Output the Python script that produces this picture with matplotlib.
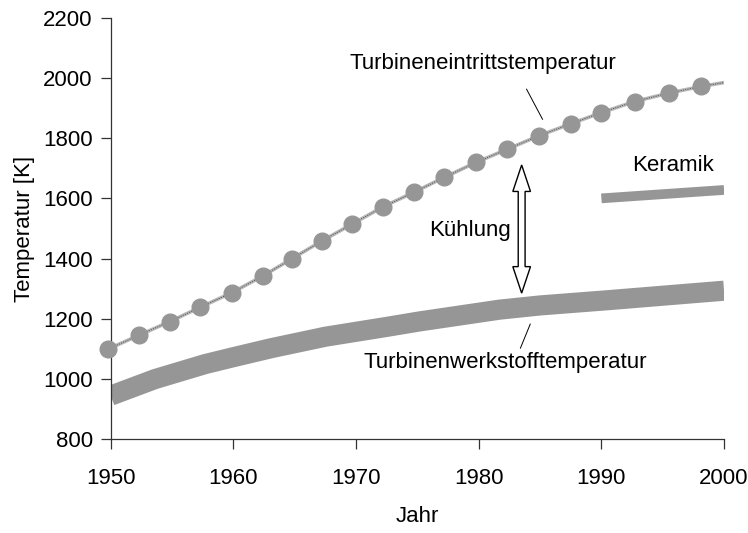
import matplotlib
matplotlib.use("Agg")
import matplotlib.pyplot as plt
from matplotlib.patches import Polygon

plt.rcParams['font.family'] = ['Liberation Sans', 'DejaVu Sans']

# Turbineneintrittstemperatur (dots)
tit_years = [1949.8, 1952.3, 1954.8, 1957.3, 1959.9, 1962.4, 1964.8, 1967.2, 1969.7, 1972.2,
             1974.7, 1977.2, 1979.8, 1982.3, 1984.9, 1987.5, 1990.0, 1992.7, 1995.5, 1998.1]
tit_temps = [1099, 1145, 1190, 1238, 1287, 1342, 1400, 1458, 1515, 1572,
             1620, 1670, 1720, 1763, 1808, 1848, 1885, 1922, 1950, 1972]
tit_line_end_year = 2000
tit_line_end_temp = 1985

# Turbinenwerkstofftemperatur (thick band)
mat_years = [1950, 1953.6, 1957.7, 1960, 1963.1, 1967.5, 1972.4, 1975.2, 1981.7, 1985, 1990.4, 2000]
mat_temps = [944, 999, 1049, 1072, 1102, 1140, 1172, 1191, 1230, 1244, 1261, 1293]

# Keramik
cer_years = [1990, 2000]
cer_temps = [1600, 1628]

x_ticks = [1950, 1960, 1970, 1980, 1990, 2000]
y_ticks = [800, 1000, 1200, 1400, 1600, 1800, 2000, 2200]

GRAY = '#969696'

fig = plt.figure(figsize=(7.48, 5.33), dpi=100)
ax = fig.add_axes([0.148, 0.1764, 0.820, 0.790])

ax.plot(mat_years, mat_temps, color=GRAY, lw=14.5, solid_capstyle='butt',
        solid_joinstyle='round', zorder=2)
ax.plot(cer_years, cer_temps, color=GRAY, lw=7, solid_capstyle='butt', zorder=2)

line_x = tit_years + [tit_line_end_year]
line_y = tit_temps + [tit_line_end_temp]
ax.plot(line_x, line_y, color='#b8b8b8', lw=2.6, zorder=3)
ax.plot(line_x, line_y, color='#555555', lw=0.7, dashes=(1.2, 1.2), zorder=3)
ax.plot(tit_years, tit_temps, linestyle='none', marker='o', ms=12, color=GRAY,
        mec=GRAY, zorder=4, clip_on=False)

# hollow double arrow (Kühlung)
ax_x, y_top, y_bot = 1983.5, 1711, 1285
hs, hh, hl = 0.28, 0.72, 88
verts = [(ax_x, y_top), (ax_x + hh, y_top - hl), (ax_x + hs, y_top - hl),
         (ax_x + hs, y_bot + hl), (ax_x + hh, y_bot + hl), (ax_x, y_bot),
         (ax_x - hh, y_bot + hl), (ax_x - hs, y_bot + hl), (ax_x - hs, y_top - hl),
         (ax_x - hh, y_top - hl)]
ax.add_patch(Polygon(verts, closed=True, fc='white', ec='black', lw=1.0, zorder=5))

fs = 16
ax.text(1980.3, 2047, 'Turbineneintrittstemperatur', ha='center', va='center', fontsize=fs)
ax.plot([1983.9, 1985.2], [1963, 1863], color='black', lw=0.7)
ax.text(1982.2, 1053, 'Turbinenwerkstofftemperatur', ha='center', va='center', fontsize=fs)
ax.plot([1984.2, 1983.4], [1182, 1102], color='black', lw=0.7)
ax.text(1979.3, 1493, 'Kühlung', ha='center', va='center', fontsize=fs)
ax.text(1995.8, 1708, 'Keramik', ha='center', va='center', fontsize=fs)

ax.set_xlim(1950, 2000)
ax.set_ylim(800, 2200)
ax.set_xticks(x_ticks)
ax.set_yticks(y_ticks)
ax.tick_params(axis='both', labelsize=fs, direction='out', length=7, width=0.9, color='#333333')
ax.tick_params(axis='x', pad=14)
ax.tick_params(axis='y', pad=6)
for s in ['top', 'right']:
    ax.spines[s].set_visible(False)
for s in ['left', 'bottom']:
    ax.spines[s].set_color('#333333')
    ax.spines[s].set_linewidth(0.9)

ax.set_xlabel('Jahr', fontsize=fs, labelpad=12)
ax.set_ylabel('Temperatur [K]', fontsize=fs, labelpad=6)

fig.savefig('out.png', dpi=100)
